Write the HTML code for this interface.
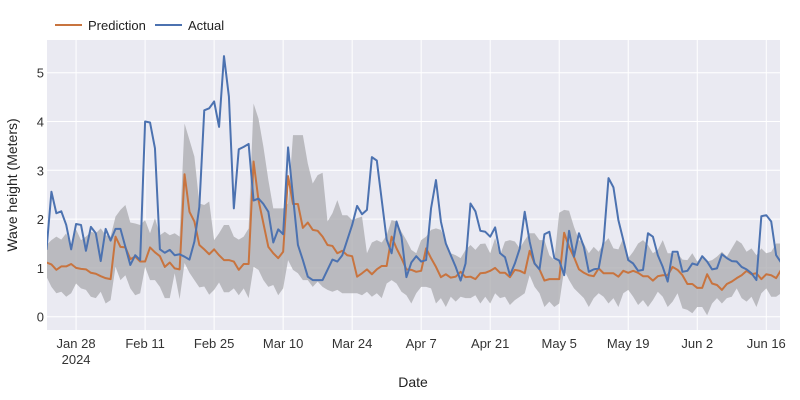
<!DOCTYPE html>
<html><head><meta charset="utf-8"><style>
body{margin:0;background:#fff;}
svg{display:block;font-family:"Liberation Sans",sans-serif;}
</style></head><body>
<svg id="chart" width="800" height="400">
<rect x="47" y="40" width="733" height="290" fill="#eaeaf2"/>
<defs><clipPath id="clip"><rect x="47" y="40" width="733" height="290"/></clipPath></defs>
<g id="grid"></g>
<g id="marks" clip-path="url(#clip)"></g>
<g id="axes"></g>
<g>
<line x1="55" y1="25" x2="82" y2="25" stroke="#c8743f" stroke-width="2"/>
<text x="88" y="30" font-size="13" fill="#222">Prediction</text>
<line x1="155" y1="25" x2="182" y2="25" stroke="#4c72b0" stroke-width="2"/>
<text x="188" y="30" font-size="13" fill="#222">Actual</text>
</g>
<text x="413" y="387" font-size="14" fill="#222" text-anchor="middle">Date</text>
<text transform="translate(17,185) rotate(-90)" font-size="14" fill="#222" text-anchor="middle">Wave height (Meters)</text>
</svg>
<script>
const actual=[1.37,2.56,2.12,2.16,1.88,1.38,1.9,1.88,1.35,1.84,1.71,1.14,1.80,1.56,1.80,1.80,1.43,1.06,1.26,1.16,4.0,3.98,3.45,1.38,1.31,1.37,1.26,1.28,1.23,1.17,1.54,2.25,4.23,4.27,4.41,3.89,5.34,4.51,2.22,3.43,3.48,3.54,2.38,2.42,2.31,2.15,1.52,1.79,1.69,3.47,2.46,1.47,1.16,0.82,0.75,0.75,0.75,0.96,1.17,1.13,1.26,1.57,1.88,2.27,2.10,2.19,3.27,3.20,2.39,1.58,1.30,1.95,1.64,0.81,1.11,1.24,1.13,1.16,2.22,2.80,1.95,1.50,1.26,1.02,0.74,1.09,2.32,2.16,1.76,1.74,1.64,1.83,1.30,1.22,0.85,1.09,1.40,2.15,1.54,1.09,0.97,1.69,1.74,1.20,1.15,0.85,1.76,1.23,1.71,1.43,0.92,0.97,0.99,1.54,2.84,2.65,1.98,1.57,1.16,1.09,0.94,0.96,1.71,1.64,1.26,1.02,0.72,1.33,1.33,0.92,0.94,1.09,1.06,1.24,1.13,0.97,0.99,1.28,1.20,1.14,1.13,1.02,0.97,0.89,0.75,2.06,2.08,1.95,1.26,1.11];
const prediction=[1.11,1.07,0.96,1.03,1.03,1.08,1.0,0.98,0.97,0.90,0.88,0.83,0.79,0.77,1.64,1.43,1.42,1.18,1.23,1.13,1.13,1.42,1.32,1.24,1.02,1.11,0.99,0.97,2.92,2.15,1.95,1.47,1.38,1.28,1.38,1.26,1.16,1.16,1.13,0.96,1.08,1.08,3.18,2.39,1.91,1.43,1.30,1.20,1.33,2.88,2.31,2.31,1.82,1.93,1.78,1.76,1.64,1.47,1.45,1.30,1.35,1.26,1.24,0.82,0.89,0.97,0.87,0.97,1.04,1.04,1.64,1.40,1.20,0.97,0.96,0.92,0.94,1.40,1.20,1.02,0.81,0.87,0.80,0.82,0.92,0.81,0.82,0.77,0.89,0.90,0.94,1.00,0.90,0.90,0.81,0.96,0.94,0.89,1.35,1.09,0.97,0.74,0.77,0.77,0.77,1.72,1.43,1.22,0.97,0.90,0.85,0.83,0.99,0.89,0.89,0.89,0.82,0.94,0.90,0.94,0.90,0.83,0.83,0.74,0.83,0.85,0.85,1.02,0.96,0.85,0.67,0.67,0.59,0.59,0.87,0.68,0.65,0.55,0.67,0.72,0.79,0.85,0.94,0.87,0.89,0.77,0.87,0.85,0.79,0.96];
const upper=[1.47,1.57,1.64,1.58,1.71,1.40,1.79,1.57,1.64,1.74,1.71,1.81,1.67,1.64,2.05,2.19,2.29,1.93,1.91,1.88,1.98,1.71,2.02,1.67,1.74,1.67,1.71,1.64,3.96,3.62,3.28,2.32,2.29,2.36,1.57,1.71,1.88,1.88,1.64,1.58,1.64,1.81,4.37,4.06,3.48,2.80,2.22,2.22,2.22,2.32,3.72,3.72,3.72,3.14,2.73,2.90,2.95,1.95,2.12,2.39,2.08,2.08,1.98,2.02,2.05,1.30,1.52,1.57,1.52,1.67,1.98,1.95,1.74,1.57,1.37,1.30,1.57,1.64,1.78,1.81,1.78,1.54,1.30,1.26,1.20,1.37,1.47,1.37,1.49,1.50,1.30,1.61,1.26,1.54,1.57,1.54,1.40,1.57,1.71,1.71,1.57,1.57,1.26,1.16,2.13,2.19,2.17,1.84,1.57,1.50,1.30,1.43,1.33,1.50,1.61,1.40,1.38,1.61,1.20,1.33,1.50,1.57,1.47,1.30,1.37,1.57,1.30,1.30,1.30,1.17,1.16,1.30,1.13,1.23,1.13,1.16,1.23,1.33,1.23,1.40,1.57,1.50,1.33,1.40,1.26,1.40,1.30,1.33,1.50,1.50];
const lower=[0.82,0.61,0.48,0.51,0.41,0.48,0.68,0.58,0.55,0.41,0.38,0.51,0.27,0.34,1.02,0.75,0.85,0.58,0.44,0.48,1.02,0.75,0.75,0.61,0.38,0.38,0.89,0.36,1.1,0.9,0.75,0.6,0.62,0.45,0.55,0.7,0.5,0.5,0.58,0.44,0.58,0.38,1.02,0.96,0.75,0.61,0.65,0.44,0.58,1.16,0.96,0.89,0.75,0.75,0.61,0.72,0.61,0.55,0.51,0.55,0.48,0.48,0.48,0.48,0.44,0.51,0.41,0.48,0.38,0.68,0.75,0.68,0.51,0.44,0.27,0.48,0.61,0.61,0.58,0.27,0.38,0.20,0.41,0.31,0.41,0.38,0.38,0.44,0.27,0.41,0.27,0.48,0.38,0.41,0.24,0.34,0.41,0.48,0.85,0.61,0.48,0.20,0.31,0.20,0.27,0.96,0.75,0.58,0.48,0.38,0.20,0.38,0.48,0.41,0.27,0.38,0.20,0.48,0.55,0.41,0.24,0.34,0.20,0.34,0.51,0.41,0.20,0.31,0.48,0.17,0.14,0.07,0.20,0.20,0.03,0.27,0.38,0.27,0.38,0.41,0.58,0.38,0.31,0.41,0.20,0.48,0.58,0.41,0.41,0.48];
const yTicks=[0,1,2,3,4,5];
const xTickDays=[6,20,34,48,62,76,90,104,118,132,146];
const xTickLabels=["Jan 28","Feb 11","Feb 25","Mar 10","Mar 24","Apr 7","Apr 21","May 5","May 19","Jun 2","Jun 16"];

const NS="http://www.w3.org/2000/svg";
function x(d){return 46.5+4.93*d;}
function y(v){return 316.7-48.8*v;}
function mk(tag,attrs,parent){const e=document.createElementNS(NS,tag);for(const k in attrs)e.setAttribute(k,attrs[k]);parent.appendChild(e);return e;}
const grid=document.getElementById('grid'),marks=document.getElementById('marks'),axes=document.getElementById('axes');
yTicks.forEach(t=>{
  const l=mk('line',{x1:47,x2:780,y1:y(t),y2:y(t),stroke:'#fff','stroke-width':1},grid);
  
  
  const tx=mk('text',{x:44,y:y(t)+5,'font-size':13,fill:'#333','text-anchor':'end'},axes);
  tx.textContent=t;
  
  
});
xTickDays.forEach((d,i)=>{
  const l=mk('line',{x1:x(d),x2:x(d),y1:40,y2:330,stroke:'#fff','stroke-width':1},grid);
  
  
  const tx=mk('text',{x:x(d),y:348,'font-size':13,fill:'#333','text-anchor':'middle'},axes);
  tx.textContent=xTickLabels[i];
  
  
});
const yr=mk('text',{x:x(6),y:364,'font-size':13,fill:'#333','text-anchor':'middle'},axes);
yr.textContent='2024';



let bp=upper.map((v,i)=>x(i)+','+y(v));
for(let i=lower.length-1;i>=0;i--)bp.push(x(i)+','+y(lower[i]));
const band=mk('polygon',{points:bp.join(' '),fill:'#a9a9ad','fill-opacity':0.75},marks);


const pl=mk('polyline',{points:prediction.map((v,i)=>x(i)+','+y(v)).join(' '),fill:'none',stroke:'#c8743f','stroke-width':2,'stroke-linejoin':'round'},marks);


const al=mk('polyline',{points:actual.map((v,i)=>x(i)+','+y(v)).join(' '),fill:'none',stroke:'#4c72b0','stroke-width':2,'stroke-linejoin':'round'},marks);


</script>
</body></html>
